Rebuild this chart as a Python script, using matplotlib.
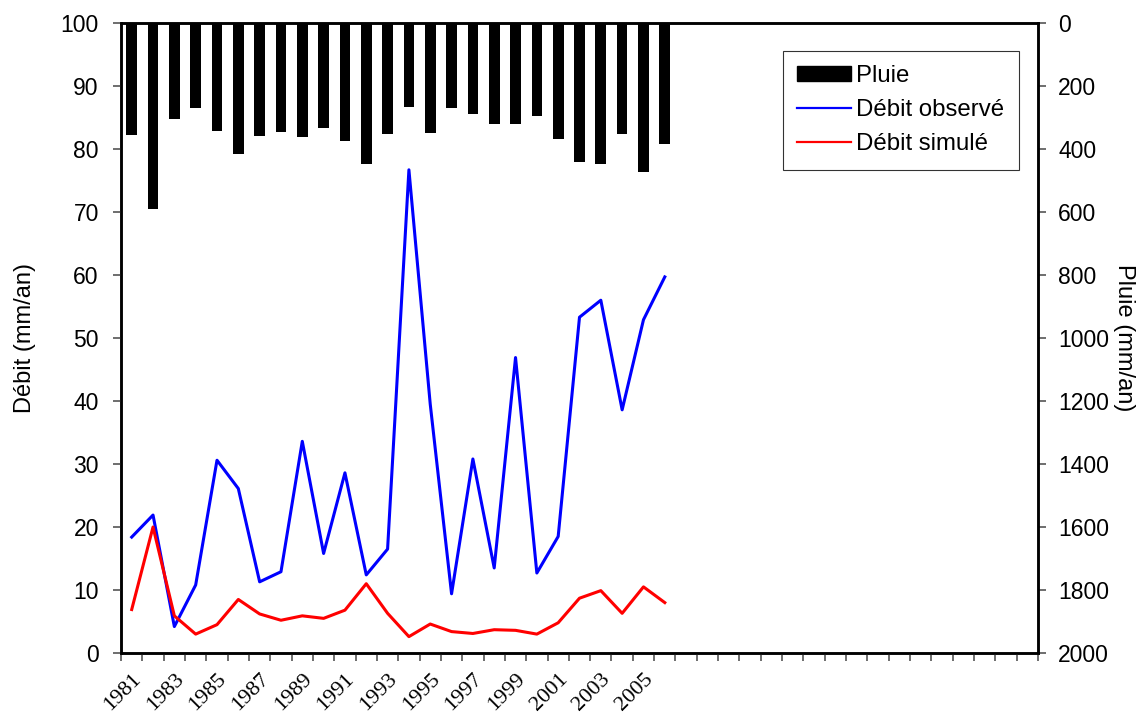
import matplotlib
matplotlib.use("Agg")
import matplotlib.pyplot as plt
from matplotlib.patches import Patch
from matplotlib.lines import Line2D
from matplotlib.transforms import ScaledTranslation
import numpy as np

# annual series 1981-2006
years = list(range(1981, 2007))
pluie = [356, 591, 305, 269, 342, 416, 359, 347, 362, 333, 374, 447, 351,
         268, 348, 271, 290, 320, 322, 294, 369, 440, 448, 353, 473, 383]
debit_obs = [18.4, 21.9, 4.2, 10.8, 30.6, 26.1, 11.3, 12.9, 33.6, 15.8, 28.6,
             12.4, 16.5, 76.7, 39.5, 9.4, 30.8, 13.5, 46.9, 12.7, 18.5, 53.3,
             56.0, 38.6, 52.9, 59.7]
debit_sim = [6.9, 20.0, 5.9, 3.0, 4.5, 8.5, 6.2, 5.2, 5.9, 5.5, 6.8, 11.0,
             6.3, 2.6, 4.6, 3.4, 3.1, 3.7, 3.6, 3.0, 4.8, 8.7, 9.9, 6.3, 10.5,
             8.0]
n_cat = 43  # category slots on the x axis (many left empty)

sans = "Liberation Sans"
serif = "Liberation Serif"
fs = 16.5

fig = plt.figure(figsize=(11.43, 7.15), dpi=100)
ax = fig.add_axes([0.1059, 0.0867, 0.8022, 0.8811])
ax2 = ax.twinx()

x = np.arange(len(years))

# rain as hanging bars on the inverted right axis
ax2.bar(x, pluie, width=0.5, color="black", zorder=2)
ax2.set_ylim(2000, 0)
ax2.set_yticks(range(0, 2001, 200))

ax.plot(x, debit_obs, color="#0000ff", lw=2.2, zorder=3)
ax.plot(x, debit_sim, color="#ff0000", lw=2.2, zorder=3)
ax.set_ylim(0, 100)
ax.set_yticks(range(0, 101, 10))
ax.set_xlim(-0.5, n_cat - 0.5)

ax.set_zorder(ax2.get_zorder() + 1)
ax.patch.set_visible(False)

# category labels every other year, ticks on the boundaries
ax.set_xticks(x[::2])
ax.set_xticklabels([str(y) for y in years[::2]], rotation=45, ha="right",
                   va="top", rotation_mode="anchor", fontsize=16,
                   family=serif)
shift = ScaledTranslation(-2 / 100, 0, fig.dpi_scale_trans)
for lab in ax.get_xticklabels():
    lab.set_transform(lab.get_transform() + shift)
ax.set_xticks(np.arange(n_cat + 1) - 0.5, minor=True)
ax.tick_params(axis="x", which="major", length=0, pad=12)
ax.tick_params(axis="x", which="minor", length=6, width=1.2, color="#555555")

for a in (ax, ax2):
    for s in a.spines.values():
        s.set_linewidth(1.8)
        s.set_color("black")
ax.tick_params(axis="y", length=6, width=1.2, color="#555555", labelsize=fs,
               pad=10)
ax2.tick_params(axis="y", length=6, width=1.2, color="#555555", labelsize=fs,
                pad=8.5)
for lab in ax.get_yticklabels() + ax2.get_yticklabels():
    lab.set_family(sans)

ax.set_ylabel("Débit (mm/an)", fontsize=17, family=sans, labelpad=18)
ax2.set_ylabel("Pluie (mm/an)", fontsize=17, family=sans, rotation=270,
               va="bottom", labelpad=3)

handles = [Patch(facecolor="black", edgecolor="black"),
           Line2D([], [], color="#0000ff", lw=1.6),
           Line2D([], [], color="#ff0000", lw=1.6)]
leg = ax.legend(handles, ["Pluie", "Débit observé", "Débit simulé"],
                loc="upper right", bbox_to_anchor=(0.979, 0.956),
                prop={"family": sans, "size": 17.3}, frameon=True,
                fancybox=False, edgecolor="black", handlelength=2.25,
                handleheight=0.55, handletextpad=0.2, labelspacing=0.5,
                borderpad=0.6, borderaxespad=0)
leg.get_frame().set_linewidth(0.8)

fig.savefig("out.png", dpi=100)
